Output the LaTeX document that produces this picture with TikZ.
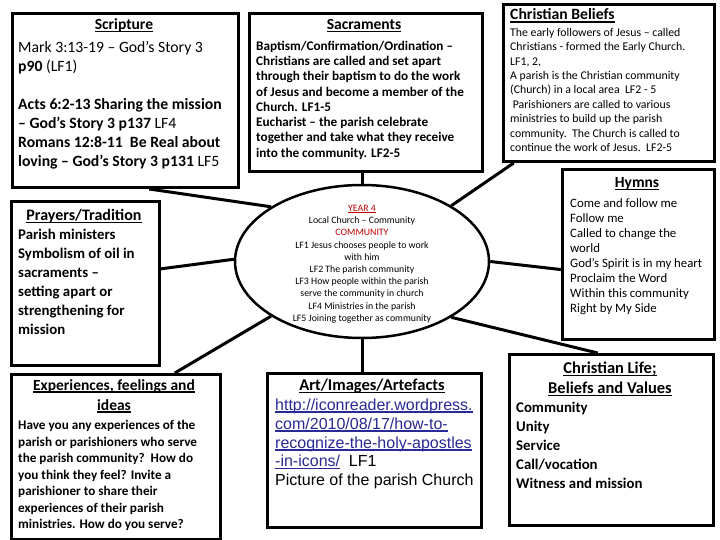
\documentclass[tikz,border=0pt]{standalone}
\usepackage{fontspec}
\setmainfont{Carlito}
\newfontfamily\arialfont{Liberation Sans}
\usetikzlibrary{shapes.geometric}
\definecolor{LinkBlue}{HTML}{2A2A96}
\definecolor{YearRed}{HTML}{C00000}
\newcommand\firstrow{\rule{0pt}{0.9em}}
\newcommand\undertext[1]{\sbox0{#1}\rlap{\rule[-0.16em]{\wd0}{0.085em}}\usebox0}
\tikzset{
  box/.style={draw,line width=3pt,anchor=north west,inner sep=0pt},
  joint/.style={line width=3pt},
  heading/.style={anchor=base,inner sep=0pt,font=\bfseries\fontsize{15.5}{20}\selectfont},
  body/.style={anchor=north west,align=left,inner sep=0pt}
}
\begin{document}
\begin{tikzpicture}[x=1pt,y=-1pt]
  \useasboundingbox[fill=white] (0,0) rectangle (720,540);
  % boxes
  \node[box,minimum width=226,minimum height=174] (scripture) at (11,12) {};
  \node[box,minimum width=233,minimum height=158] (sacraments) at (248,12) {};
  \node[box,minimum width=211,minimum height=157] (beliefs) at (502,3) {};
  \node[box,minimum width=152,minimum height=170] (hymns) at (561,168) {};
  \node[box,minimum width=148,minimum height=164] (prayers) at (10,200) {};
  \node[box,minimum width=209,minimum height=165] (experiences) at (10,373) {};
  \node[box,minimum width=214,minimum height=154] (art) at (266,372) {};
  \node[box,minimum width=204,minimum height=171] (life) at (508,353) {};
  \node[draw,line width=2.5pt,ellipse,inner sep=0pt,minimum width=254,minimum height=153] (centre) at (362,261.5) {};
  % connectors
  \draw[joint] (scripture.-75) -- (centre.149);
  \draw[joint] (prayers.11) -- (centre.179);
  \draw[joint] (experiences.55) -- (centre.211);
  \draw[joint] (sacraments.south -| centre.north) -- (centre.north);
  \draw[joint] (beliefs.220) -- (centre.32);
  \draw[joint] (hymns.191) -- (centre.east);
  \draw[joint] (life.99) -- (centre.-32);
  \draw[joint] (centre.south) -- (centre.south |- art.north);
  % texts
  \node[heading] (scripturehead) at (124,30) {\undertext{Scripture}};
  \node[body,font=\fontsize{15.7}{19}\selectfont] (scripturetext) at (18,37.9)
    {\firstrow Mark 3:13-19 -- God’s Story 3\\ \textbf{p90} (LF1)\\[19pt]
     \textbf{Acts 6:2-13 Sharing the mission}\\ \textbf{-- God’s Story 3 p137} LF4\\
     \textbf{Romans 12:8-11\ \ Be Real about}\\ \textbf{loving -- God’s Story 3 p131} LF5};
  \node[heading] (sacramentshead) at (364,30) {\undertext{Sacraments}};
  \node[body,font=\bfseries\fontsize{13.2}{15.3}\selectfont] (sacramentstext) at (256,38.1)
    {\firstrow Baptism/Confirmation/Ordination --\\ Christians are called and set apart\\
     through their baptism to do the work\\ of Jesus and become a member of the\\
     Church. LF1-5\\ Eucharist -- the parish celebrate\\
     together and take what they receive\\ into the community. LF2-5};
  \node[heading,anchor=base west,font=\bfseries\fontsize{15.7}{20}\selectfont] (beliefshead) at (510,20) {\undertext{Christian Beliefs}};
  \node[body,font=\fontsize{11.8}{14.4}\selectfont] (beliefstext) at (510,25.4)
    {\firstrow The early followers of Jesus -- called\\ Christians - formed the Early Church.\\
     LF1, 2,\\ A parish is the Christian community\\ (Church) in a local area\ \ LF2 - 5\\
     \ Parishioners are called to various\\ ministries to build up the parish\\
     community.\ \ The Church is called to\\ continue the work of Jesus.\ \ LF2-5};
  \node[heading] (hymnshead) at (637,188) {\undertext{Hymns}};
  \node[body,font=\fontsize{12.8}{15.1}\selectfont] (hymnstext) at (570,195.5)
    {\firstrow Come and follow me\\ Follow me\\ Called to change the\\ world\\
     God’s Spirit is in my heart\\ Proclaim the Word\\ Within this community\\ Right by My Side};
  \node[heading,font=\bfseries\fontsize{16}{20}\selectfont] (prayershead) at (84,220.5) {\undertext{Prayers/Tradition}};
  \node[body,font=\bfseries\fontsize{14.8}{19}\selectfont] (prayerstext) at (18,226.2)
    {\firstrow Parish ministers\\ Symbolism of oil in\\ sacraments --\\ setting apart or\\
     strengthening for\\ mission};
  \node[heading,anchor=north,align=center] (experienceshead) at (114,376)
    {\firstrow\undertext{Experiences, feelings and}\\ \undertext{ideas}};
  \node[body,font=\bfseries\fontsize{13.2}{16.5}\selectfont] (experiencestext) at (18,417.6)
    {\firstrow Have you any experiences of the\\ parish or parishioners who serve\\
     the parish community?\ \ How do\\ you think they feel? Invite a\\
     parishioner to share their\\ experiences of their parish\\ ministries. How do you serve?};
  \node[heading,font=\bfseries\fontsize{16.5}{20}\selectfont] (arthead) at (372,390.5) {\undertext{Art/Images/Artefacts}};
  \node[body,font=\arialfont\fontsize{16}{18.9}\selectfont] (arttext) at (275,395.6)
    {\firstrow\textcolor{LinkBlue}{\undertext{http://iconreader.wordpress.}}\\
     \textcolor{LinkBlue}{\undertext{com/2010/08/17/how-to-}}\\
     \textcolor{LinkBlue}{\undertext{recognize-the-holy-apostles}}\\
     \textcolor{LinkBlue}{\undertext{-in-icons/}}\ \ LF1\\ Picture of the parish Church};
  \node[heading,anchor=north,align=center,font=\bfseries\fontsize{16.5}{20}\selectfont] (lifehead) at (610,358.5)
    {\firstrow\undertext{Christian Life;}\\ \undertext{Beliefs and Values}};
  \node[body,font=\bfseries\fontsize{14.8}{19}\selectfont] (lifetext) at (516,399)
    {\firstrow Community\\ Unity\\ Service\\ Call/vocation\\ Witness and mission};
  \node[anchor=north,align=center,inner sep=0pt,font=\fontsize{9.8}{12.2}\selectfont] (centretext) at (362,202.5)
    {\firstrow\textcolor{YearRed}{\undertext{YEAR 4}}\\ Local Church -- Community\\ \textcolor{YearRed}{COMMUNITY}\\
     LF1 Jesus chooses people to work\\ with him\\ LF2 The parish community\\
     LF3 How people within the parish\\ serve the community in church\\
     LF4 Ministries in the parish\\ LF5 Joining together as community};
\end{tikzpicture}
\end{document}
